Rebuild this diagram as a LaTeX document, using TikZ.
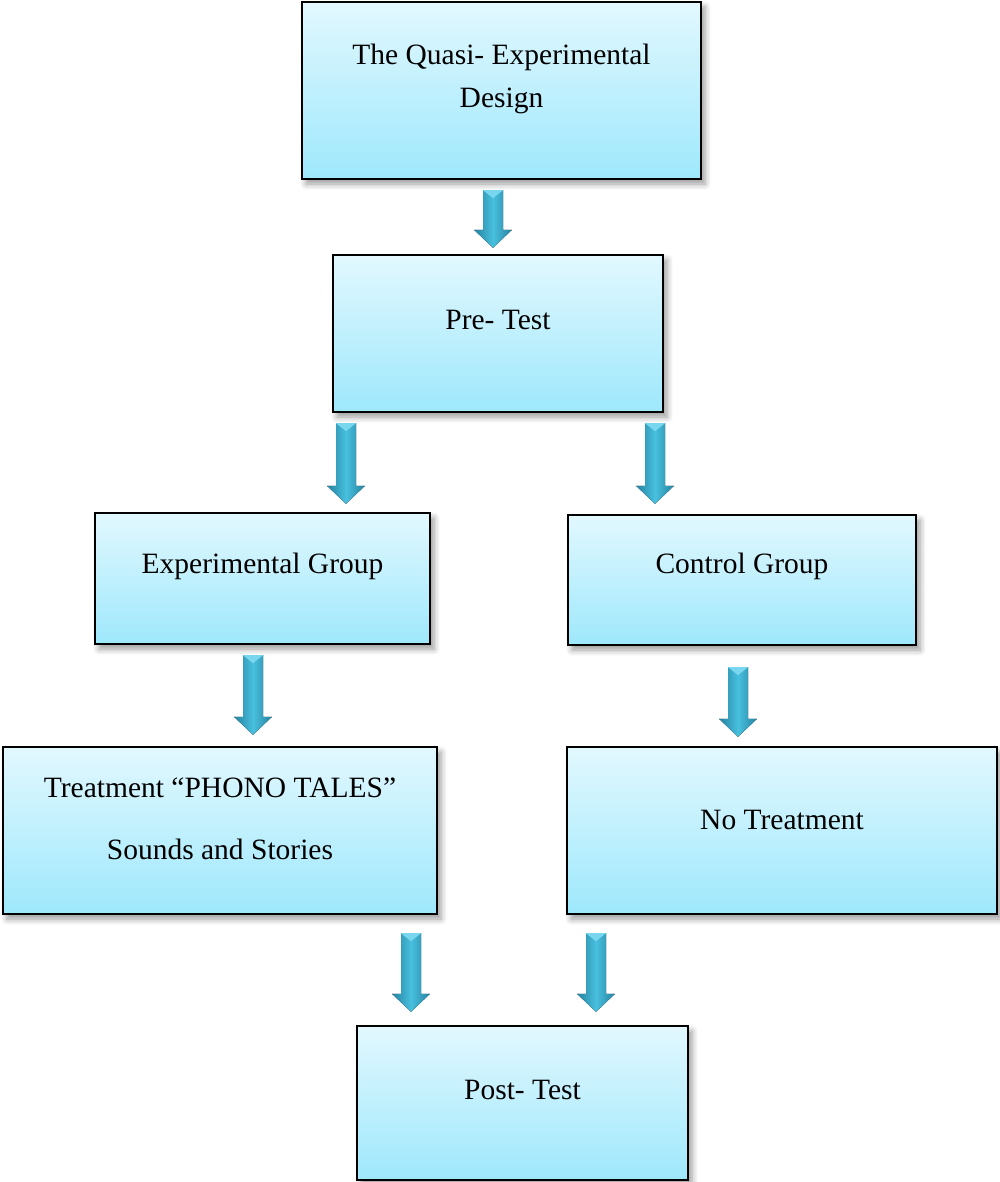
\documentclass[tikz,border=0pt]{standalone}
\usepackage{fontspec}
\setmainfont{Liberation Serif}
\usetikzlibrary{calc,fit,shadows.blur}
\definecolor{boxtop}{RGB}{226,248,254}
\definecolor{boxbot}{RGB}{158,232,252}
\definecolor{arrdark}{RGB}{36,130,160}
\definecolor{arrlight}{RGB}{72,192,222}
\definecolor{arrhi}{RGB}{120,215,238}
\tikzset{
  box/.style={draw=black, line width=1.2pt, top color=boxtop, bottom color=boxbot, inner sep=0pt,
    blur shadow={shadow xshift=2pt, shadow yshift=-2.5pt, shadow blur steps=6, shadow opacity=40, shadow blur radius=3pt}},
  lbl/.style={font=\fontsize{14.75}{21.5}\selectfont, align=center, inner sep=0pt, text=black},
  fat/.style={left color=arrdark, right color=arrdark, middle color=arrlight}
}
\newcommand\fatarrow[2]{%
  \fill[fat] ($(#1)+(-10,0)$) -- ($(#1)+(10,0)$) -- ($(#2)+(10,-18)$) -- ($(#2)+(19,-18)$) -- (#2)
     -- ($(#2)+(-19,-18)$) -- ($(#2)+(-10,-18)$) -- cycle;
  \fill[arrhi] ($(#1)+(-10,0)$) -- ($(#1)+(10,0)$) -- ($(#1)+(0,8)$) -- cycle;
}
\begin{document}
\begin{tikzpicture}[x=0.5pt,y=-0.5pt]
\useasboundingbox (0,0) rectangle (1000,1182);
% boxes
\node[box, fit={(302,2)(701,179)}] (design) {};
\node[box, fit={(333,255)(663,412)}] (pre) {};
\node[box, fit={(95,513)(430,644)}] (exp) {};
\node[box, fit={(568,515)(916,645)}] (ctrl) {};
\node[box, fit={(3,747)(437,914)}] (treat) {};
\node[box, fit={(567,747)(997,914)}] (notreat) {};
\node[box, fit={(357,1026)(688,1180)}] (post) {};
% texts
\node[lbl] (design-t) at ($(design.center)+(0,-12)$) {The Quasi- Experimental\\Design};
\node[lbl] (pre-t) at ($(pre.center)+(0,-14)$) {Pre- Test};
\node[lbl] (exp-t) at ($(exp.center)+(0,-12)$) {Experimental Group};
\node[lbl] (ctrl-t) at ($(ctrl.center)+(0,-14)$) {Control Group};
\node[lbl] (treat-t) at ($(treat.center)+(0,-12)$) {Treatment “PHONO TALES”\\[9.5pt]Sounds and Stories};
\node[lbl] (notreat-t) at ($(notreat.center)+(0,-11)$) {No Treatment};
\node[lbl] (post-t) at ($(post.center)+(0,-13)$) {Post- Test};
% arrows
\coordinate (a1s) at (design.south -| 493,0) ; \coordinate (a1s) at ($(a1s)+(0,10)$);
\coordinate (a1e) at ($(pre.north -| 493,0)+(0,-6)$);
\coordinate (a2s) at ($(pre.south -| 346,0)+(0,10)$);
\coordinate (a2e) at ($(exp.north -| 346,0)+(0,-8)$);
\coordinate (a3s) at ($(pre.south -| 655,0)+(0,10)$);
\coordinate (a3e) at ($(ctrl.north -| 655,0)+(0,-10)$);
\coordinate (a4s) at ($(exp.south -| 253,0)+(0,10)$);
\coordinate (a4e) at ($(treat.north -| 253,0)+(0,-11)$);
\coordinate (a5s) at ($(ctrl.south -| 738,0)+(0,21)$);
\coordinate (a5e) at ($(notreat.north -| 738,0)+(0,-9)$);
\coordinate (a6s) at ($(treat.south -| 411,0)+(0,18)$);
\coordinate (a6e) at ($(post.north -| 411,0)+(0,-13)$);
\coordinate (a7s) at ($(notreat.south -| 596,0)+(0,18)$);
\coordinate (a7e) at ($(post.north -| 596,0)+(0,-13)$);
\fatarrow{a1s}{a1e}
\fatarrow{a2s}{a2e}
\fatarrow{a3s}{a3e}
\fatarrow{a4s}{a4e}
\fatarrow{a5s}{a5e}
\fatarrow{a6s}{a6e}
\fatarrow{a7s}{a7e}
\end{tikzpicture}
\end{document}
